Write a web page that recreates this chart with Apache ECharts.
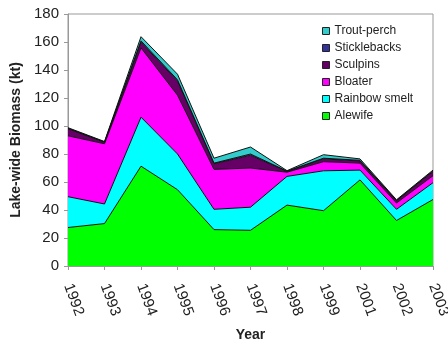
<!DOCTYPE html>
<html><head><meta charset="utf-8">
<script src="https://cdn.jsdelivr.net/npm/echarts@6/dist/echarts.min.js"></script>
<style>html,body{margin:0;padding:0;background:#fff}#c{width:448px;height:343px}</style>
</head><body><div id="c"></div>
<script>
const years = ['1992','1993','1994','1995','1996','1997','1998','1999','2001','2002','2003'];
const alewife      = [27.5, 30.3, 71.3, 54.5, 26.0, 25.5, 43.5, 39.5, 61.5, 32.5, 47.5];
const rainbowSmelt = [22.0, 14.0, 35.0, 25.5, 14.5, 16.5, 20.5, 28.5,  7.0,  8.0, 12.0];
const bloater      = [43.5, 43.0, 49.5, 42.0, 28.5, 28.0,  3.0,  6.5,  5.0,  4.5,  5.0];
const sculpins     = [ 5.0,  1.0,  4.0, 10.0,  4.0,  9.0,  0.5,  2.0,  1.5,  1.5,  3.0];
const sticklebacks = [ 0.4,  0.3,  1.0,  1.0,  0.5,  1.0,  0.3,  0.5,  0.5,  0.3,  0.5];
const troutPerch   = [ 0.4,  0.3,  3.0,  4.0,  3.5,  5.0,  0.3,  2.5,  1.0,  0.5,  0.5];
const yTicks = [0, 20, 40, 60, 80, 100, 120, 140, 160, 180];

const seriesDefs = [
  ['Alewife', alewife, '#00ff00'],
  ['Rainbow smelt', rainbowSmelt, '#00ffff'],
  ['Bloater', bloater, '#ff00ff'],
  ['Sculpins', sculpins, '#660066'],
  ['Sticklebacks', sticklebacks, '#333399'],
  ['Trout-perch', troutPerch, '#33cccc']
];
const FONT = '"Liberation Sans", Arial, sans-serif';
const chart = echarts.init(document.getElementById('c'), null, {renderer: 'canvas'});
chart.setOption({
  animation: false,
  backgroundColor: '#fff',
  grid: {left: 68, right: 15, top: 14, bottom: 77, show: true, borderColor: '#999', borderWidth: 1,
         containLabel: false, outerBoundsMode: 'none'},
  legend: {
    orient: 'vertical', left: 322, top: 24, padding: 0, itemGap: 3,
    itemWidth: 7, itemHeight: 7, icon: 'rect',
    data: ['Trout-perch', 'Sticklebacks', 'Sculpins', 'Bloater', 'Rainbow smelt', 'Alewife'],
    textStyle: {fontFamily: FONT, fontSize: 12, color: '#222', lineHeight: 14},
    itemStyle: {borderColor: '#222', borderWidth: 1}
  },
  xAxis: {
    type: 'category', data: years, boundaryGap: false,
    name: 'Year', nameLocation: 'middle', nameGap: 62,
    nameTextStyle: {fontFamily: FONT, fontSize: 14, fontWeight: 'bold', color: '#222'},
    axisLine: {lineStyle: {color: '#999'}},
    axisTick: {show: true, length: 4, lineStyle: {color: '#999'}},
    axisLabel: {rotate: -70, fontFamily: FONT, fontSize: 15, color: '#222', margin: 18},
    splitLine: {show: false}
  },
  yAxis: {
    type: 'value', min: yTicks[0], max: yTicks[yTicks.length - 1], interval: 20,
    name: 'Lake-wide Biomass (kt)', nameLocation: 'middle', nameGap: 42, nameRotate: 90,
    nameTextStyle: {fontFamily: FONT, fontSize: 14, fontWeight: 'bold', color: '#222'},
    axisLine: {show: true, lineStyle: {color: '#999'}},
    axisTick: {show: true, length: 4, lineStyle: {color: '#999'}},
    axisLabel: {fontFamily: FONT, fontSize: 15, color: '#222', margin: 9},
    splitLine: {show: false}
  },
  series: seriesDefs.map(([name, data, color]) => ({
    name, type: 'line', stack: 'total', data,
    symbol: 'none', smooth: false,
    color: color,
    itemStyle: {color: color},
    lineStyle: {color: '#111', width: 1},
    areaStyle: {color: color, opacity: 1}
  }))
});
</script></body></html>
